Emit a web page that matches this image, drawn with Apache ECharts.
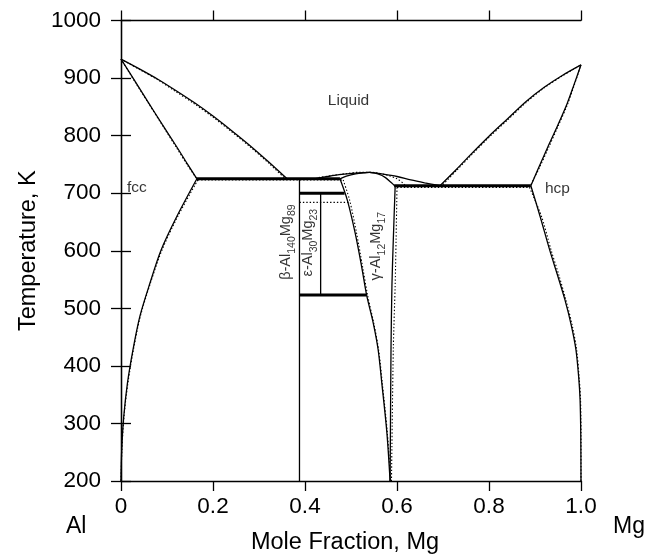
<!DOCTYPE html>
<html>
<head>
<meta charset="utf-8">
<script src="https://cdn.jsdelivr.net/npm/echarts@6/dist/echarts.min.js"></script>
<style>
  html, body { margin: 0; padding: 0; background: #fff; }
  #chart { width: 656px; height: 555px; }
</style>
</head>
<body>
<div id="chart"></div>
<script>
// Al–Mg phase diagram: [mole fraction Mg, temperature K]
const xTickValues = [0, 0.2, 0.4, 0.6, 0.8, 1.0];
const xTickLabels = ['0', '0.2', '0.4', '0.6', '0.8', '1.0'];
const yTickValues = [200, 300, 400, 500, 600, 700, 800, 900, 1000];

// calculated boundaries (solid)
const fccLiquidus = [[0, 933], [0.04, 916], [0.08, 898], [0.12, 878], [0.16, 857], [0.2, 834], [0.24, 809], [0.28, 783], [0.32, 755], [0.361, 725]];
const fccSolidus = [[0, 933], [0.03, 895], [0.06, 857], [0.09, 819], [0.12, 782], [0.145, 750], [0.165, 725]];
const fccSolvus = [[0.165, 725], [0.121, 659], [0.087, 601], [0.063, 544], [0.041, 486], [0.026, 428], [0.014, 370], [0.006, 312], [0.0015, 254], [0, 200]];
const eutecticLeft = [[0.165, 725], [0.476, 725]];
const betaLine = [[0.388, 725], [0.388, 200]];
const epsilonLine = [[0.434, 700], [0.434, 523]];
const epsilonTop = [[0.388, 700], [0.486, 700]];
const epsilonBottom = [[0.388, 523], [0.534, 523]];
const gammaLeft = [[0.476, 725], [0.492, 688], [0.509, 631], [0.523, 573], [0.534, 523], [0.5485, 474], [0.559, 428], [0.567, 370], [0.578, 284], [0.585, 200]];
const gammaSolidusLeft = [[0.476, 725], [0.49, 729.5], [0.51, 733.5], [0.53, 735.5], [0.54, 736]];
const gammaSolidusRight = [[0.54, 736], [0.56, 733], [0.575, 727], [0.588, 718], [0.596, 712]];
const gammaRight = [[0.596, 712], [0.592, 620], [0.589, 540], [0.587, 430], [0.585, 200]];
const domeLiquidus = [[0.42, 725], [0.45, 729], [0.48, 732.5], [0.51, 735], [0.54, 736], [0.57, 733], [0.6, 729], [0.63, 723], [0.66, 718], [0.6935, 713]];
const eutecticRight = [[0.594, 713], [0.891, 713]];
const hcpLiquidus = [[0.6935, 713], [0.73, 742], [0.76, 767], [0.8, 799], [0.84, 829], [0.88, 859], [0.92, 884], [0.96, 905], [1, 923]];
const hcpSolidus = [[0.891, 713], [0.91, 748], [0.93, 784], [0.95, 819], [0.97, 856], [0.985, 889], [1, 923]];
const hcpSolvus = [[0.891, 713], [0.911, 660], [0.932, 601], [0.948, 560], [0.965, 515], [0.979, 470], [0.989, 428], [0.995, 380], [0.998, 341], [0.9995, 280], [1, 200]];

// comparison boundaries (dotted)
const dotFccLiquidus = [[0, 933], [0.04, 915], [0.08, 897], [0.12, 876], [0.16, 855], [0.2, 832], [0.24, 807], [0.28, 781], [0.32, 753], [0.36, 723]];
const dotFccSolidus = [[0, 933], [0.03, 894], [0.06, 856], [0.09, 818], [0.12, 780], [0.145, 748], [0.167, 723]];
const dotFccSolvus = [[0.167, 723], [0.123, 659], [0.089, 601], [0.064, 544], [0.042, 486], [0.027, 428], [0.015, 370], [0.0065, 312], [0.002, 254], [0, 200]];
const dotEutecticLeft = [[0.167, 723], [0.483, 723]];
const dotEpsilonTop = [[0.388, 684], [0.495, 684]];
const dotGammaLeft = [[0.483, 723], [0.497, 688], [0.512, 631], [0.525, 573], [0.536, 523], [0.5495, 474], [0.56, 428], [0.568, 370], [0.579, 284], [0.586, 200]];
const dotDome = [[0.43, 727], [0.46, 731], [0.49, 734], [0.52, 736.5], [0.55, 736], [0.58, 731], [0.6, 725], [0.615, 716], [0.62, 710]];
const dotGammaRight = [[0.6, 710], [0.598, 620], [0.596, 540], [0.592, 430], [0.588, 200]];
const dotEutecticRight = [[0.6, 710], [0.888, 710]];
const dotHcpLiquidus = [[0.695, 711], [0.73, 740], [0.76, 765], [0.8, 797], [0.84, 827], [0.88, 857], [0.92, 883], [0.96, 904], [1, 923]];
const dotHcpSolidus = [[0.888, 710], [0.91, 745], [0.93, 780], [0.95, 816], [0.97, 853], [0.985, 887], [1, 923]];
const dotHcpSolvus = [[0.888, 710], [0.914, 660], [0.935, 601], [0.951, 560], [0.967, 515], [0.981, 470], [0.9905, 428], [0.996, 380], [0.999, 341], [1, 280], [1, 200]];

// region and phase labels: [x, T, text]
const phaseLabels = [[0.4946, 860, 'Liquid']];
const sideLabels = [[0.013, 709, 'fcc'], [0.9217, 707, 'hcp']];
const compoundLabels = [
  [0.363, 615, '{m|β-Al}{s|140}{m|Mg}{s|89}'],
  [0.411, 614, '{m|ε-Al}{s|30}{m|Mg}{s|23}'],
  [0.5587, 608, '{m|γ-Al}{s|12}{m|Mg}{s|17}']
];

const FONT = '"Liberation Sans", Arial, Helvetica, sans-serif';

function solid(data, width, smooth) {
  return {
    type: 'line', data: data, showSymbol: false, silent: true,
    smooth: smooth ? 0.3 : false,
    lineStyle: { color: '#000', width: width, type: 'solid' },
    z: 3
  };
}
function dotted(data, smooth) {
  return {
    type: 'line', data: data, showSymbol: false, silent: true,
    smooth: smooth ? 0.3 : false,
    lineStyle: { color: '#000', width: 1.1, type: [1.4, 2] },
    z: 2
  };
}

const series = [
  dotted(dotFccLiquidus, true), dotted(dotFccSolidus, true), dotted(dotFccSolvus, true),
  dotted(dotEutecticLeft), dotted(dotEpsilonTop), dotted(dotGammaLeft, true),
  dotted(dotDome, true), dotted(dotGammaRight, true), dotted(dotEutecticRight),
  dotted(dotHcpLiquidus, true), dotted(dotHcpSolidus, true), dotted(dotHcpSolvus, true),

  solid(fccLiquidus, 1.3, true), solid(fccSolidus, 1.3, true), solid(fccSolvus, 1.3, true),
  solid(eutecticLeft, 3), solid(betaLine, 1.3), solid(epsilonLine, 1.3),
  solid(epsilonTop, 3), solid(epsilonBottom, 3),
  solid(gammaLeft, 1.3, true), solid(gammaSolidusLeft, 1.3, true), solid(gammaSolidusRight, 1.3, true),
  solid(gammaRight, 1.3, true), solid(domeLiquidus, 1.3, true),
  solid(eutecticRight, 3),
  solid(hcpLiquidus, 1.3, true), solid(hcpSolidus, 1.3, true), solid(hcpSolvus, 1.3, true),

  {
    type: 'scatter', data: phaseLabels, symbolSize: 0, silent: true, z: 5,
    label: { show: true, position: [0, 0], align: 'center', verticalAlign: 'middle',
      formatter: p => p.data[2], color: '#000', fontSize: 15.5, fontFamily: FONT }
  },
  {
    type: 'scatter', data: sideLabels, symbolSize: 0, silent: true, z: 5,
    label: { show: true, position: [0, 0], align: 'left', verticalAlign: 'middle',
      formatter: p => p.data[2], color: '#000', fontSize: 15.5, fontFamily: FONT }
  },
  {
    type: 'scatter', data: compoundLabels, symbolSize: 0, silent: true, z: 5,
    label: {
      show: true, position: [0, 0], align: 'center', verticalAlign: 'middle', rotate: 90,
      formatter: p => p.data[2], color: '#000', fontFamily: FONT,
      rich: {
        m: { fontSize: 14.5, fontFamily: FONT, color: '#000', lineHeight: 19, verticalAlign: 'top' },
        s: { fontSize: 10.5, fontFamily: FONT, color: '#000', lineHeight: 19, verticalAlign: 'bottom' }
      }
    }
  }
];

const axisLineStyle = { show: true, lineStyle: { color: '#000', width: 1.3 } };
const tickStyle = { show: true, inside: false, length: 10, lineStyle: { color: '#000', width: 1.3 } };

const chart = echarts.init(document.getElementById('chart'), null, { renderer: 'canvas' });
chart.setOption({
  animation: false,
  backgroundColor: '#fff',
  grid: { left: 121, right: 75, top: 20.5, bottom: 74, containLabel: false, outerBoundsMode: 'none' },
  xAxis: [
    {
      type: 'value', min: 0, max: 1, interval: 0.2, position: 'bottom',
      axisLine: axisLineStyle,
      axisTick: Object.assign({ customValues: xTickValues }, tickStyle),
      axisLabel: {
        customValues: xTickValues, margin: 14, color: '#000', fontSize: 22.5, fontFamily: FONT,
        formatter: v => xTickLabels[xTickValues.findIndex(t => Math.abs(t - v) < 1e-9)]
      },
      splitLine: { show: false },
      name: 'Mole Fraction, Mg', nameLocation: 'middle', nameGap: 50,
      nameTextStyle: { color: '#000', fontSize: 23.5, fontFamily: FONT, padding: [0, 12, 0, 0] }
    },
    {
      type: 'value', min: 0, max: 1, interval: 0.2, position: 'top',
      axisLine: axisLineStyle,
      axisTick: Object.assign({ customValues: xTickValues }, tickStyle),
      axisLabel: { show: false }, splitLine: { show: false }
    }
  ],
  yAxis: [
    {
      type: 'value', min: 200, max: 1000, interval: 100, position: 'left',
      axisLine: axisLineStyle,
      axisTick: Object.assign({ customValues: yTickValues }, tickStyle),
      axisLabel: { customValues: yTickValues, margin: 20, color: '#000', fontSize: 22.5, fontFamily: FONT,
        formatter: v => String(v) },
      splitLine: { show: false },
      name: 'Temperature, K', nameLocation: 'middle', nameGap: 78, nameRotate: 90,
      nameTextStyle: { color: '#000', fontSize: 23.5, fontFamily: FONT }
    },
    {
      type: 'value', min: 200, max: 1000, interval: 100, position: 'right',
      axisLine: axisLineStyle,
      axisTick: Object.assign({ customValues: yTickValues }, tickStyle),
      axisLabel: { show: false }, splitLine: { show: false }
    }
  ],
  graphic: [
    { type: 'text', left: 66, top: 515, style: { text: 'Al', fill: '#000', font: '23px ' + FONT } },
    { type: 'text', left: 613, top: 515, style: { text: 'Mg', fill: '#000', font: '23px ' + FONT } }
  ],
  series: series
});
</script>
</body>
</html>
